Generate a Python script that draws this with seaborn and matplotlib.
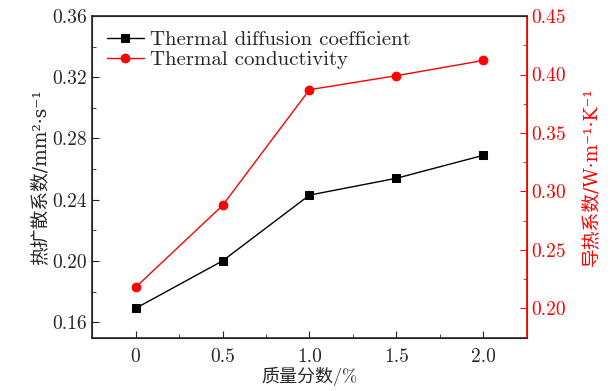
import matplotlib
matplotlib.use("Agg")
import matplotlib.pyplot as plt
import seaborn as sns
from matplotlib.ticker import MultipleLocator

# data
mass_frac = [0, 0.5, 1.0, 1.5, 2.0]
diffusion = [0.169, 0.200, 0.243, 0.254, 0.269]
conductivity = [0.218, 0.288, 0.387, 0.399, 0.412]

sns.set_style("ticks")
plt.rcParams['font.family'] = ['cmr10', 'Noto Sans CJK SC', 'DejaVu Serif', 'DejaVu Sans']
plt.rcParams['mathtext.fontset'] = 'cm'
plt.rcParams['axes.formatter.use_mathtext'] = True
plt.rcParams['font.size'] = 14

fig, ax = plt.subplots(figsize=(6.14, 3.91), dpi=100)
fig.subplots_adjust(left=0.15, right=0.858, top=0.959, bottom=0.135)
ax2 = ax.twinx()

sns.lineplot(x=mass_frac, y=diffusion, ax=ax, color="black", marker="s",
             markersize=5.8, markeredgecolor="black", linewidth=1,
             label="Thermal diffusion coefficient", legend=False)
sns.lineplot(x=mass_frac, y=conductivity, ax=ax2, color="red", marker="o",
             markersize=6.3, markeredgecolor="red", linewidth=1,
             label="Thermal conductivity", legend=False)

ax.set_xlim(-0.25, 2.25)
ax.set_ylim(0.1495, 0.36)
ax2.set_ylim(0.1745, 0.45)

ax.set_xticks(mass_frac)
ax.set_xticklabels(["0", "0.5", "1.0", "1.5", "2.0"])
ax.xaxis.set_minor_locator(MultipleLocator(0.25))
ax.set_yticks([0.16, 0.20, 0.24, 0.28, 0.32, 0.36])
ax.set_yticklabels(["0.16", "0.20", "0.24", "0.28", "0.32", "0.36"])
ax.yaxis.set_minor_locator(MultipleLocator(0.02))
ax2.set_yticks([0.20, 0.25, 0.30, 0.35, 0.40, 0.45])
ax2.set_yticklabels(["0.20", "0.25", "0.30", "0.35", "0.40", "0.45"])
ax2.yaxis.set_minor_locator(MultipleLocator(0.025))

ax.tick_params(which="both", direction="in", top=False, right=False)
ax.tick_params(which="major", length=5, labelsize=14)
ax.tick_params(axis="x", which="major", pad=7)
ax.tick_params(which="minor", length=3)
ax2.tick_params(which="both", direction="in", colors="red")
ax2.tick_params(which="major", length=5, labelsize=14)
ax2.tick_params(which="minor", length=3)
ax2.spines["right"].set_color("red")
ax2.spines["right"].set_linewidth(1.2)
for s in ["left", "bottom", "top"]:
    ax.spines[s].set_linewidth(1.2)

lab_font = ['DejaVu Serif', 'Noto Sans CJK SC']
ax.set_xlabel("质量分数/%", fontsize=13, labelpad=1)
ax.set_ylabel("热扩散系数/mm²·s⁻¹", family=lab_font, fontsize=13.5, labelpad=2)
ax2.set_ylabel("导热系数/W·m⁻¹·K⁻¹", color="red", family=lab_font, fontsize=13.5, labelpad=11)

h1, l1 = ax.get_legend_handles_labels()
h2, l2 = ax2.get_legend_handles_labels()
ax.legend(h1 + h2, l1 + l2, loc="upper left", frameon=False, fontsize=15,
          handlelength=1.8, handletextpad=0.3, borderaxespad=0.3, labelspacing=0.05)

fig.savefig("out.png", dpi=100)
